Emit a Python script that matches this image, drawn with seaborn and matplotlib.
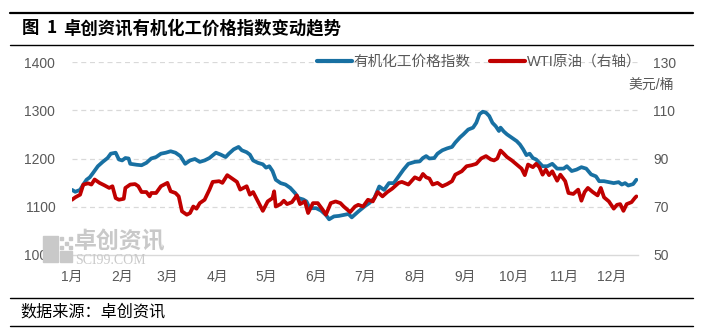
import matplotlib
matplotlib.use("Agg")
import matplotlib.pyplot as plt
from matplotlib.lines import Line2D
from matplotlib.patches import Rectangle
import seaborn as sns
import pandas as pd

# ---------------- data ----------------
year = 2023
blue_dates = ["01-01","01-03","01-06","01-08","01-10","01-12","01-14","01-17","01-20","01-23","01-25","01-28","01-30",
              "02-01","02-03","02-05","02-06","02-10","02-13","02-16","02-19","02-22","02-25","02-28",
              "03-03","03-06","03-09","03-12","03-15","03-18","03-21","03-24","03-27","03-31",
              "04-03","04-06","04-08","04-11","04-14","04-16","04-19","04-21","04-23","04-26","04-29",
              "05-01","05-03","05-05","05-07","05-10","05-13","05-16","05-19","05-21","05-24","05-26","05-28",
              "06-01","06-04","06-07","06-09","06-12","06-15","06-18","06-21","06-23","06-27",
              "07-01","07-04","07-07","07-10","07-13","07-16","07-19","07-22","07-25","07-28",
              "08-01","08-04","08-06","08-08","08-10","08-13","08-15","08-18","08-21","08-24","08-26","08-29","08-31",
              "09-03","09-06","09-08","09-10","09-12","09-14","09-16","09-18","09-20","09-22","09-23","09-25","09-27","09-30",
              "10-03","10-05","10-07","10-09","10-11","10-13","10-15","10-17","10-19","10-22","10-25","10-28",
              "11-01","11-03","11-06","11-09","11-12","11-15","11-18","11-21","11-23","11-26","11-29",
              "12-02","12-05","12-07","12-09","12-11","12-14","12-16"]
blue_values = [1135,1131,1135,1146,1156,1161,1170,1184,1193,1201,1210,1212,1198,
               1196,1201,1200,1189,1187,1186,1191,1200,1203,1210,1212,
               1215,1212,1205,1189,1196,1199,1193,1196,1201,1212,
               1208,1203,1210,1219,1224,1217,1213,1208,1196,1191,1188,
               1181,1184,1174,1156,1149,1146,1139,1128,1118,1115,1111,1097,
               1097,1092,1083,1074,1080,1081,1083,1085,1078,1090,
               1101,1108,1118,1142,1135,1149,1149,1163,1177,1189,
               1193,1194,1201,1205,1200,1201,1210,1217,1221,1224,1233,1244,1250,
               1260,1264,1274,1292,1297,1295,1288,1274,1267,1257,1264,1256,1250,1243,
               1236,1229,1219,1207,1210,1201,1198,1191,1184,1184,1189,1179,
               1179,1184,1174,1177,1182,1179,1167,1163,1153,1153,1151,
               1149,1151,1146,1149,1144,1147,1156]

red_dates = ["01-01","01-03","01-06","01-08","01-11","01-13","01-15","01-18","01-21","01-24","01-26","01-28","01-30",
             "02-02","02-03","02-06","02-09","02-11","02-13","02-16","02-18","02-19","02-22","02-25",
             "03-01","03-03","03-06","03-08","03-10","03-13","03-15","03-17","03-19","03-21","03-24","03-27","03-29",
             "04-02","04-04","04-07","04-10","04-13","04-15","04-19","04-21","04-23","04-26","04-29",
             "05-02","05-05","05-06","05-07","05-10","05-12","05-14","05-17","05-20","05-22","05-25","05-27","05-30",
             "06-02","06-05","06-07","06-10","06-13","06-16","06-18","06-22","06-25","06-27","06-30",
             "07-03","07-06","07-09","07-12","07-15","07-18","07-22","07-24","07-28",
             "08-01","08-04","08-06","08-08","08-10","08-12","08-15","08-18","08-21","08-24","08-26","08-30",
             "09-02","09-05","09-08","09-11","09-14","09-17","09-19","09-21","09-23","09-25","09-27","09-30",
             "10-03","10-06","10-08","10-10","10-13","10-15","10-17","10-19","10-21","10-23","10-25","10-28","10-30",
             "11-02","11-04","11-07","11-10","11-12","11-14","11-16","11-19","11-22","11-24","11-26","11-29",
             "12-02","12-04","12-06","12-08","12-10","12-13","12-15","12-16"]
red_values = [72.9,73.9,75.0,79.2,79.7,79.2,81.3,79.9,78.9,77.8,78.5,73.6,72.9,
              73.3,77.8,79.2,79.4,78.5,76.1,76.1,74.3,75.7,75.7,78.5,
              79.9,76.4,75.7,74.3,68.1,66.7,67.4,70.1,69.2,71.5,72.9,77.1,80.3,
              80.6,79.9,83.1,81.7,80.3,77.1,78.5,75.0,76.1,72.2,68.3,
              72.2,73.6,76.4,70.1,71.1,72.5,71.1,71.9,74.7,71.1,72.2,67.4,71.5,
              71.5,68.8,66.7,71.5,72.2,71.5,70.1,67.8,70.1,70.8,70.1,
              72.9,72.2,76.1,74.3,76.1,77.5,79.9,80.3,79.2,
              82.2,81.3,83.6,82.2,81.7,79.2,79.9,78.5,79.4,80.6,83.3,84.7,
              86.8,87.2,87.8,90.0,91.0,89.6,89.2,90.0,93.3,92.0,90.6,89.2,
              87.5,85.8,83.1,87.5,86.4,87.8,86.4,83.3,85.4,83.1,84.7,80.8,83.3,
              80.6,75.7,75.3,77.1,72.5,76.1,77.8,76.1,74.7,77.8,73.9,72.2,
              69.2,70.8,71.1,68.3,71.1,71.9,73.6,74.3]

series_names = ["有机化工价格指数", "WTI原油（右轴）"]
month_labels = [f"{m}月" for m in range(1, 13)]
left_ticks = [1000, 1100, 1200, 1300, 1400]
right_ticks = [50, 70, 90, 110, 130]

df_blue = pd.DataFrame({"date": pd.to_datetime([f"{year}-{d}" for d in blue_dates]), "value": blue_values})
df_red = pd.DataFrame({"date": pd.to_datetime([f"{year}-{d}" for d in red_dates]), "value": red_values})

# ---------------- style ----------------
sns.set_style("white")
plt.rcParams['font.family'] = ['Liberation Sans', 'Noto Sans CJK SC', 'DejaVu Sans']
plt.rcParams['axes.unicode_minus'] = False

BLUE = "#1870A2"
RED = "#C00000"
GREY_TXT = "#595959"
GRID = "#D9D9D9"

W, H = 703, 331
fig = plt.figure(figsize=(W / 100, H / 100), dpi=100)

def fx(px):
    return px / W

def fy(py):
    return 1 - py / H

ax = fig.add_axes([fx(72), fy(255), fx(638) - fx(72), fy(62) - fy(255)])
ax2 = ax.twinx()

sns.lineplot(data=df_blue, x="date", y="value", ax=ax, color=BLUE, linewidth=2.7, zorder=3)
sns.lineplot(data=df_red, x="date", y="value", ax=ax2, color=RED, linewidth=2.7, zorder=3)

ax.set_ylim(1000, 1400)
ax2.set_ylim(50, 130)
ax.set_yticks(left_ticks)
ax2.set_yticks(right_ticks)
ax.set_xlim(pd.Timestamp(f"{year}-01-01"), pd.Timestamp(f"{year}-12-17"))
month_ticks = pd.date_range(f"{year}-01-01", periods=12, freq="MS")
ax.set_xticks(month_ticks)
ax.set_xticklabels(month_labels)

for a in (ax, ax2):
    a.set_xlabel("")
    a.set_ylabel("")
    for s in ("left", "right", "top", "bottom"):
        a.spines[s].set_visible(False)
    a.patch.set_visible(False)

ax.spines["bottom"].set_visible(True)
ax.spines["bottom"].set_color(GRID)
ax.spines["bottom"].set_linewidth(1.0)

for y in left_ticks[1:]:
    ax.axhline(y, color=GRID, linestyle=(0, (4, 3)), linewidth=0.9, zorder=1)

ax.tick_params(axis="y", length=0, pad=12, labelsize=10, labelcolor=GREY_TXT)
ax2.tick_params(axis="y", length=0, pad=11, labelsize=10, labelcolor=GREY_TXT)
ax.tick_params(axis="x", direction="out", length=4, width=0.8, color=GRID, pad=7,
               labelsize=10, labelcolor=GREY_TXT)

# legend
handles = [Line2D([], [], color=BLUE, linewidth=3), Line2D([], [], color=RED, linewidth=3)]
leg = fig.legend(handles, series_names, loc="center", bbox_to_anchor=(fx(479), fy(62)), ncol=2,
                 frameon=False, fontsize=10.5, handlelength=2.4, handletextpad=0.15, columnspacing=1.3,
                 borderpad=0, borderaxespad=0)
for t in leg.get_texts():
    t.set_color(GREY_TXT)

# unit label
fig.text(fx(674), fy(85), "美元/桶", ha="right", va="center", fontsize=10, color=GREY_TXT)

# watermark
wm_col = "#C9C9C9"
fig.patches.append(Rectangle((fx(43), fy(262)), fx(15), fy(236) - fy(262), transform=fig.transFigure,
                             color=wm_col, zorder=0))
fig.patches.append(Rectangle((fx(60), fy(262)), fx(12), fy(251) - fy(262), transform=fig.transFigure,
                             color=wm_col, zorder=0))
for i in range(3):
    for j in range(3):
        if (i + j) % 2 == 0:
            fig.patches.append(Rectangle((fx(60 + 4.5 * i), fy(240 + 4.5 * j)), fx(3), fy(237) - fy(240),
                                         transform=fig.transFigure, color=wm_col, zorder=0))
fig.text(fx(74), fy(242), "卓创资讯", ha="left", va="center", fontsize=16.5, color=wm_col,
         family=["Noto Sans CJK SC"], fontweight="bold", zorder=0)
fig.text(fx(75), fy(260), "SCI99.COM", ha="left", va="center", fontsize=10, color=wm_col,
         family=["Liberation Serif"], zorder=0)

# title + frame lines
fig.add_artist(Line2D([fx(10), fx(693)], [fy(13), fy(13)], color="black", linewidth=1.6))
fig.add_artist(Line2D([fx(10), fx(693)], [fy(45), fy(45)], color="black", linewidth=1.0))
title_font = ["Noto Sans CJK SC", "DejaVu Sans"]
fig.text(fx(22), fy(28), "图", ha="left", va="center", fontsize=12.5, fontweight="bold",
         color="black", family=title_font)
fig.text(fx(47), fy(28), "1", ha="left", va="center", fontsize=12.5, fontweight="bold",
         color="black", family=title_font)
fig.text(fx(63), fy(28), "卓创资讯有机化工价格指数变动趋势", ha="left", va="center",
         fontsize=12.5, fontweight="bold", color="black", family=title_font)

fig.add_artist(Line2D([fx(10), fx(693)], [fy(298), fy(298)], color="black", linewidth=1.0))
fig.add_artist(Line2D([fx(10), fx(693)], [fy(326), fy(326)], color="black", linewidth=1.0))
fig.text(fx(20), fy(312), "数据来源：卓创资讯", ha="left", va="center", fontsize=11.6, color="black",
         family=["Noto Sans CJK SC", "DejaVu Sans"])

fig.savefig("out.png", dpi=100)
